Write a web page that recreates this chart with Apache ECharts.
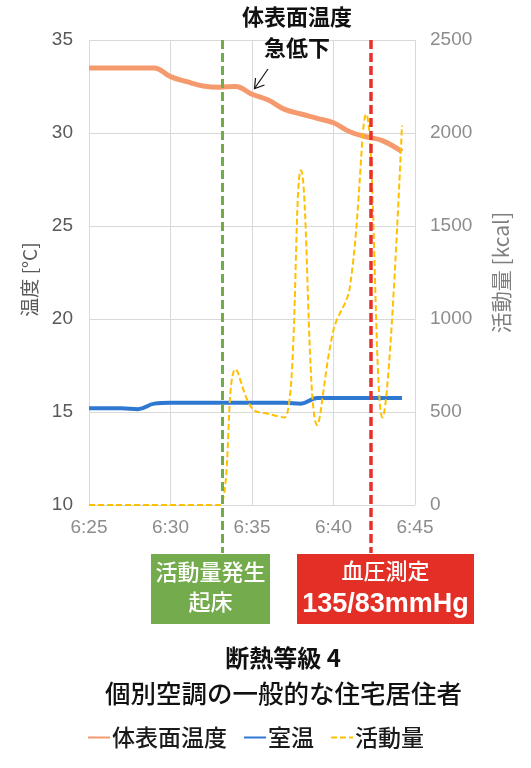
<!DOCTYPE html>
<html><head><meta charset="utf-8">
<script src="https://cdn.jsdelivr.net/npm/echarts@6/dist/echarts.min.js"></script>
<style>html,body{margin:0;padding:0;background:#fff}#c{width:531px;height:768px}</style>
</head><body><div id="c"></div>
<script>
// minutes after 6:25
const minutes = [0,1,2,3,4,5,6,7,8,9,10,11,12,13,14,15,16,17,18,19.2];
const skinTemp = [33.5,33.5,33.5,33.5,33.5,33.03,32.76,32.53,32.46,32.5,32.08,31.77,31.27,31.02,30.79,30.55,30.07,29.8,29.59,29.0];
const roomTemp = [15.2,15.2,15.2,15.15,15.45,15.5,15.5,15.5,15.5,15.5,15.5,15.5,15.5,15.45,15.75,15.75,15.75,15.75,15.75,15.75];
const activity = [0,0,0,0,0,0,0,0,0,730,520,490,470,1800,430,940,1170,2100,470,2040];
const xTickLabels = ['6:25','6:30','6:35','6:40','6:45'];
const seriesNames = ['体表面温度','室温','活動量'];
const eventTimes = [8.19, 17.3];   // 起床 / 血圧測定
const bpText = '135/83mmHg';

const CJK = '"Noto Sans CJK JP", "Noto Sans", sans-serif';
const LAT = '"Liberation Sans", Arial, sans-serif';

const chart = echarts.init(document.getElementById('c'));
const pair = arr => minutes.map((m, i) => [m, arr[i]]);

chart.setOption({
  animation: false,
  backgroundColor: '#fff',
  grid: { left: 89, right: 116, top: 40, bottom: 263 },
  xAxis: {
    type: 'value', min: 0, max: 20, interval: 5,
    axisLine: { show: false }, axisTick: { show: false },
    splitLine: { show: true, lineStyle: { color: '#d9d9d9', width: 1 } },
    axisLabel: { formatter: v => xTickLabels[Math.round(v / 5)], color: '#8c8c8c', fontSize: 19, fontFamily: LAT, margin: 13 }
  },
  yAxis: [{
    type: 'value', min: 10, max: 35, interval: 5,
    name: '温度 [°C]', nameLocation: 'middle', nameRotate: 90, nameGap: 50,
    nameTextStyle: { color: '#595959', fontSize: 19, fontFamily: CJK, padding: [0, 14, 0, 0] },
    axisLine: { show: false }, axisTick: { show: false },
    splitLine: { show: true, lineStyle: { color: '#d9d9d9', width: 1 } },
    axisLabel: { color: '#595959', fontSize: 19, fontFamily: LAT, margin: 16 }
  }, {
    type: 'value', min: 0, max: 2500, interval: 500,
    name: '活動量 [kcal]', nameLocation: 'middle', nameRotate: 90, nameGap: 76,
    nameTextStyle: { color: '#7f7f7f', fontSize: 21, fontFamily: CJK },
    axisLine: { show: false }, axisTick: { show: false },
    splitLine: { show: false },
    axisLabel: { formatter: v => String(v), color: '#8c8c8c', fontSize: 19, fontFamily: LAT, margin: 15 }
  }],
  legend: {
    bottom: 14, left: 82, itemWidth: 22, itemHeight: 10, itemGap: 16,
    itemStyle: { opacity: 0 },
    lineStyle: { width: 2 },
    textStyle: { fontSize: 23, fontWeight: 500, color: '#1a1a1a', fontFamily: CJK, padding: [0, 0, 0, -3] },
    data: seriesNames
  },
  series: [{
    name: seriesNames[0], type: 'line', yAxisIndex: 0, data: pair(skinTemp),
    smooth: 0.4, symbol: 'none', lineStyle: { color: '#f59a6e', width: 5 }, itemStyle: { color: '#f59a6e' }, z: 3
  }, {
    name: seriesNames[1], type: 'line', yAxisIndex: 0, data: pair(roomTemp),
    smooth: 0.4, symbol: 'none', lineStyle: { color: '#2f78d2', width: 4 }, itemStyle: { color: '#2f78d2' }, z: 3
  }, {
    name: seriesNames[2], type: 'line', yAxisIndex: 1, data: pair(activity),
    smooth: 0.4, symbol: 'none', lineStyle: { color: '#ffc000', width: 2, type: [6, 3] }, itemStyle: { color: '#ffc000' }, z: 4
  }]
});

const plotTop = chart.convertToPixel({ xAxisIndex: 0, yAxisIndex: 0 }, [0, 35])[1];
const gx = chart.convertToPixel({ xAxisIndex: 0, yAxisIndex: 0 }, [eventTimes[0], 35])[0];
const rx = chart.convertToPixel({ xAxisIndex: 0, yAxisIndex: 0 }, [eventTimes[1], 35])[0];

chart.setOption({
  graphic: [
    { type: 'line', z: 10, shape: { x1: gx, y1: plotTop, x2: gx, y2: 553 }, style: { stroke: '#70ad47', lineWidth: 3, lineDash: [9, 4] } },
    { type: 'line', z: 10, shape: { x1: rx, y1: plotTop, x2: rx, y2: 553 }, style: { stroke: '#e8302a', lineWidth: 3.5, lineDash: [9, 4] } },
    { type: 'rect', z: 11, shape: { x: 151, y: 554, width: 119, height: 70 }, style: { fill: '#74ab4c' } },
    { type: 'text', z: 12, x: 210.5, y: 572, style: { text: '活動量発生', fill: '#fff', font: '500 22px ' + CJK, align: 'center', verticalAlign: 'middle' } },
    { type: 'text', z: 12, x: 210.5, y: 602, style: { text: '起床', fill: '#fff', font: '500 22px ' + CJK, align: 'center', verticalAlign: 'middle' } },
    { type: 'rect', z: 11, shape: { x: 297, y: 554, width: 177, height: 70 }, style: { fill: '#e32f26' } },
    { type: 'text', z: 12, x: 385.5, y: 571, style: { text: '血圧測定', fill: '#fff', font: '500 22px ' + CJK, align: 'center', verticalAlign: 'middle' } },
    { type: 'text', z: 12, x: 385.5, y: 605, style: { text: bpText, fill: '#fff', font: 'bold 27px ' + LAT, align: 'center', verticalAlign: 'middle' } },
    { type: 'text', z: 12, x: 297, y: 17, style: { text: '体表面温度', fill: '#111', font: 'bold 22px ' + CJK, align: 'center', verticalAlign: 'middle' } },
    { type: 'text', z: 12, x: 297, y: 48, style: { text: '急低下', fill: '#111', font: 'bold 22px ' + CJK, align: 'center', verticalAlign: 'middle' } },
    { type: 'polyline', z: 12, shape: { points: [[268, 69], [254.5, 88.5]] }, style: { stroke: '#111', lineWidth: 1.2, fill: null } },
    { type: 'polyline', z: 12, shape: { points: [[255.5, 78], [254.5, 88.5], [264.5, 85]] }, style: { stroke: '#111', lineWidth: 1.2, fill: null } },
    { type: 'text', z: 12, x: 283, y: 658, style: { text: '断熱等級 4', fill: '#111', font: 'bold 24px ' + CJK, align: 'center', verticalAlign: 'middle' } },
    { type: 'text', z: 12, x: 283.5, y: 693, style: { text: '個別空調の一般的な住宅居住者', fill: '#111', font: '500 25.5px ' + CJK, align: 'center', verticalAlign: 'middle' } }
  ]
});
</script>
</body></html>
